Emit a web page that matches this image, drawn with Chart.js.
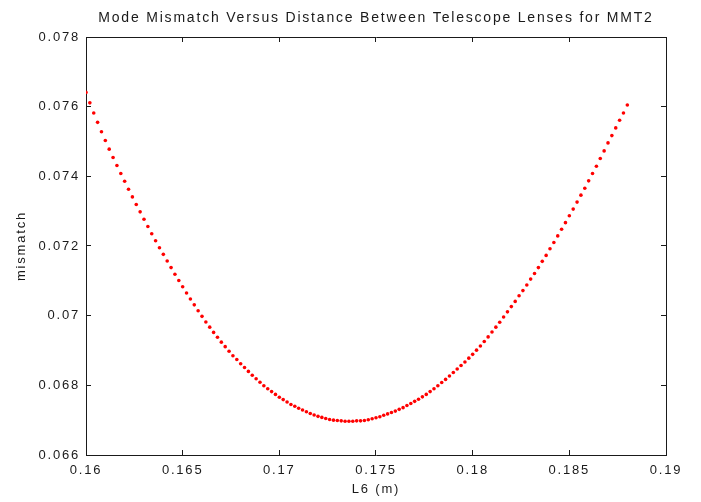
<!DOCTYPE html>
<html>
<head>
<meta charset="utf-8">
<script src="https://cdn.jsdelivr.net/npm/chart.js@4.4.1/dist/chart.umd.min.js"></script>
<style>
  html, body { margin: 0; padding: 0; background: #fff; }
  #wrap { width: 701px; height: 502px; }
</style>
</head>
<body>
<div id="wrap"><canvas id="mmChart" width="701" height="502"></canvas></div>
<script>
// L6 (m)
const lensDistance = [
  0.1600, 0.1602, 0.1604, 0.1606, 0.1608, 0.1610, 0.1612, 0.1614, 0.1616, 0.1618,
  0.1620, 0.1622, 0.1624, 0.1626, 0.1628, 0.1630, 0.1632, 0.1634, 0.1636, 0.1638,
  0.1640, 0.1642, 0.1644, 0.1646, 0.1648, 0.1650, 0.1652, 0.1654, 0.1656, 0.1658,
  0.1660, 0.1662, 0.1664, 0.1666, 0.1668, 0.1670, 0.1672, 0.1674, 0.1676, 0.1678,
  0.1680, 0.1682, 0.1684, 0.1686, 0.1688, 0.1690, 0.1692, 0.1694, 0.1696, 0.1698,
  0.1700, 0.1702, 0.1704, 0.1706, 0.1708, 0.1710, 0.1712, 0.1714, 0.1716, 0.1718,
  0.1720, 0.1722, 0.1724, 0.1726, 0.1728, 0.1730, 0.1732, 0.1734, 0.1736, 0.1738,
  0.1740, 0.1742, 0.1744, 0.1746, 0.1748, 0.1750, 0.1752, 0.1754, 0.1756, 0.1758,
  0.1760, 0.1762, 0.1764, 0.1766, 0.1768, 0.1770, 0.1772, 0.1774, 0.1776, 0.1778,
  0.1780, 0.1782, 0.1784, 0.1786, 0.1788, 0.1790, 0.1792, 0.1794, 0.1796, 0.1798,
  0.1800, 0.1802, 0.1804, 0.1806, 0.1808, 0.1810, 0.1812, 0.1814, 0.1816, 0.1818,
  0.1820, 0.1822, 0.1824, 0.1826, 0.1828, 0.1830, 0.1832, 0.1834, 0.1836, 0.1838,
  0.1840, 0.1842, 0.1844, 0.1846, 0.1848, 0.1850, 0.1852, 0.1854, 0.1856, 0.1858,
  0.1860, 0.1862, 0.1864, 0.1866, 0.1868, 0.1870, 0.1872, 0.1874, 0.1876, 0.1878,
  0.1880
];

// mode mismatch
const mismatch = [
  0.07641, 0.07611, 0.07582, 0.07555, 0.07528, 0.07503, 0.07478, 0.07454, 0.07431, 0.07408,
  0.07386, 0.07363, 0.07341, 0.07319, 0.07298, 0.07277, 0.07256, 0.07235, 0.07215, 0.07195,
  0.07176, 0.07157, 0.07138, 0.07119, 0.07101, 0.07083, 0.07065, 0.07048, 0.07031, 0.07014,
  0.06998, 0.06982, 0.06967, 0.06952, 0.06938, 0.06924, 0.06911, 0.06898, 0.06885, 0.06874,
  0.06862, 0.06851, 0.06840, 0.06829, 0.06819, 0.06809, 0.06799, 0.06790, 0.06782, 0.06774,
  0.06766, 0.06759, 0.06752, 0.06745, 0.06740, 0.06734, 0.06729, 0.06724, 0.06719, 0.06715,
  0.06711, 0.06708, 0.06705, 0.06702, 0.06700, 0.06699, 0.06698, 0.06697, 0.06697, 0.06697,
  0.06698, 0.06698, 0.06699, 0.06701, 0.06704, 0.06707, 0.06710, 0.06714, 0.06718, 0.06722,
  0.06726, 0.06731, 0.06736, 0.06742, 0.06748, 0.06754, 0.06760, 0.06767, 0.06774, 0.06782,
  0.06790, 0.06799, 0.06808, 0.06817, 0.06827, 0.06837, 0.06847, 0.06857, 0.06867, 0.06878,
  0.06889, 0.06901, 0.06913, 0.06926, 0.06939, 0.06953, 0.06967, 0.06981, 0.06996, 0.07011,
  0.07026, 0.07041, 0.07057, 0.07072, 0.07088, 0.07105, 0.07121, 0.07138, 0.07156, 0.07173,
  0.07192, 0.07210, 0.07229, 0.07248, 0.07267, 0.07287, 0.07306, 0.07326, 0.07346, 0.07366,
  0.07387, 0.07408, 0.07429, 0.07451, 0.07473, 0.07496, 0.07517, 0.07539, 0.07561, 0.07582,
  0.07605
];

const xTickLabels = ['0.16', '0.165', '0.17', '0.175', '0.18', '0.185', '0.19'];
const yTickLabels = ['0.066', '0.068', '0.07', '0.072', '0.074', '0.076', '0.078'];

const points = lensDistance.map((x, i) => ({ x: x, y: mismatch[i] }));

const ink = '#1a1a1a';
const font = { family: "'Liberation Sans', Arial, sans-serif", size: 13 };

// ticks pointing into the plot, like matlab
const boxGrid = { drawOnChartArea: false, drawTicks: true, tickLength: -5, color: ink, lineWidth: 1 };
const boxBorder = { display: true, color: ink, width: 1 };

// matlab text is spaced out a bit
const spacing = {
  id: 'spacing',
  beforeDraw(chart) { chart.ctx.letterSpacing = '1.8px'; },
  afterDraw(chart) { chart.ctx.letterSpacing = '0px'; }
};

const ctx = document.getElementById('mmChart').getContext('2d');

const config = {
  type: 'scatter',
  data: {
    datasets: [{
      data: points,
      backgroundColor: '#ff0000',
      borderWidth: 0,
      pointRadius: 1.8,
      pointHoverRadius: 1.8,
      showLine: false
    }]
  },
  options: {
    responsive: false,
    animation: false,
    devicePixelRatio: 1,
    layout: { padding: 0 },
    plugins: {
      legend: false,
      tooltip: { enabled: false },
      title: {
        display: true,
        fullSize: false,
        text: 'Mode Mismatch Versus Distance Between Telescope Lenses for MMT2',
        color: ink,
        font: { family: font.family, size: 14, weight: 'normal' },
        padding: { top: 10, bottom: 0 }
      }
    },
    scales: {
      x: {
        type: 'linear',
        position: 'bottom',
        min: 0.16,
        max: 0.19,
        ticks: {
          stepSize: 0.005,
          color: ink,
          font: font,
          padding: 13,
          maxRotation: 0,
          callback: (v, i) => xTickLabels[i]
        },
        grid: boxGrid,
        border: boxBorder,
        title: { display: true, text: 'L6 (m)', color: ink, font: font, padding: { top: 0, bottom: 5 } },
        afterFit: s => { s.height = 47; }
      },
      x2: {
        type: 'linear',
        position: 'top',
        min: 0.16,
        max: 0.19,
        ticks: { stepSize: 0.005, display: false },
        grid: boxGrid,
        border: boxBorder,
        afterFit: s => { s.height = 10.2; }
      },
      y: {
        type: 'linear',
        position: 'left',
        min: 0.066,
        max: 0.078,
        ticks: {
          stepSize: 0.002,
          color: ink,
          font: font,
          padding: 11,
          callback: (v, i) => yTickLabels[i]
        },
        grid: boxGrid,
        border: boxBorder,
        title: { display: true, text: 'mismatch', color: ink, font: font, padding: { top: 14, bottom: 0 } },
        afterFit: s => { s.width = 86; }
      },
      y2: {
        type: 'linear',
        position: 'right',
        min: 0.066,
        max: 0.078,
        ticks: { stepSize: 0.002, display: false },
        grid: boxGrid,
        border: boxBorder,
        afterFit: s => { s.width = 35; }
      }
    }
  },
  plugins: [spacing]
};

const mmChart = new Chart(ctx, config);
</script>
</body>
</html>
